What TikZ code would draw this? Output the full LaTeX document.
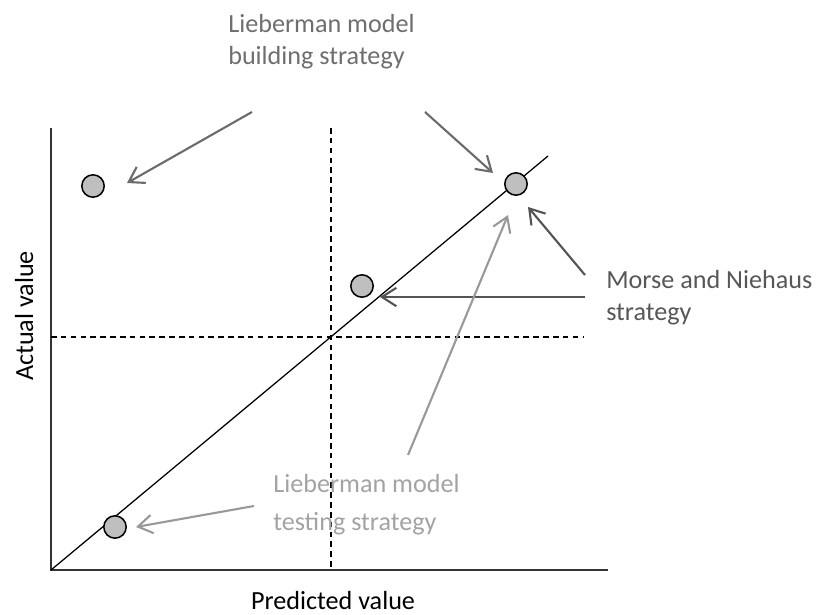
\documentclass[tikz,border=0pt]{standalone}
\usepackage{fontspec}
\setmainfont{Carlito}
\usetikzlibrary{arrows.meta}

\begin{document}
\begin{tikzpicture}[x=0.025cm,y=-0.025cm,
  dot/.style={circle,draw=black,fill=gray!50,line width=1.1pt,minimum size=0.56cm,inner sep=0},
  lbl/.style={inner sep=0,anchor=north west,align=left,font=\fontsize{18.6}{22.8}\selectfont},
  pointer/.style={line width=1.5pt,-{Straight Barb[length=3.6mm,width=4.6mm]}}]
\useasboundingbox (0,0) rectangle (816,615);
% axes and guide lines
\draw[line width=1.4pt,black!80] (51,128) -- (51,570) -- (608,570);
\draw[dashed,dash pattern=on 4pt off 3pt,line width=0.9pt] (331,128) -- (331,570);
\draw[dashed,dash pattern=on 4pt off 3pt,line width=0.9pt] (51,337) -- (583,337);
\draw[line width=0.9pt] (51,570) -- (548,156);
\node[font=\fontsize{18.6}{22}\selectfont,anchor=base] (xlab) at (333,610) {Predicted value};
\node[font=\fontsize{18.6}{22}\selectfont,anchor=base,rotate=90] (ylab) at (33,316) {Actual value};
% points
\node[dot] (p1) at (93,186) {};
\node[dot] (p2) at (516,184) {};
\node[dot] (p3) at (362,286) {};
\node[dot] (p4) at (115,527) {};
% labels
\node[lbl,text=black!57] (build) at (228,14) {Lieberman model\\building strategy};
\node[lbl,text=black!66] (morse) at (606,270) {Morse and Niehaus\\strategy};
\node[lbl,text=black!36,font=\fontsize{18.6}{27}\selectfont] (test) at (273,474) {Lieberman model\\testing strategy};
% arrow ends
\coordinate (b1) at (252,112); \coordinate (b1t) at (127,183);
\coordinate (b2) at (425,112); \coordinate (b2t) at (493,173);
\coordinate (m1) at (585,275); \coordinate (m1t) at (528,207);
\coordinate (m2) at (585,297); \coordinate (m2t) at (380,297);
\coordinate (t1) at (408,455); \coordinate (t1t) at (508,215);
\coordinate (t2) at (254,506); \coordinate (t2t) at (136,527);
\draw[pointer,black!58] (b1) -- (b1t);
\draw[pointer,black!58] (b2) -- (b2t);
\draw[pointer,black!67] (m1) -- (m1t);
\draw[pointer,black!67] (m2) -- (m2t);
\draw[pointer,black!40] (t1) -- (t1t);
\draw[pointer,black!40] (t2) -- (t2t);
\end{tikzpicture}
\end{document}
